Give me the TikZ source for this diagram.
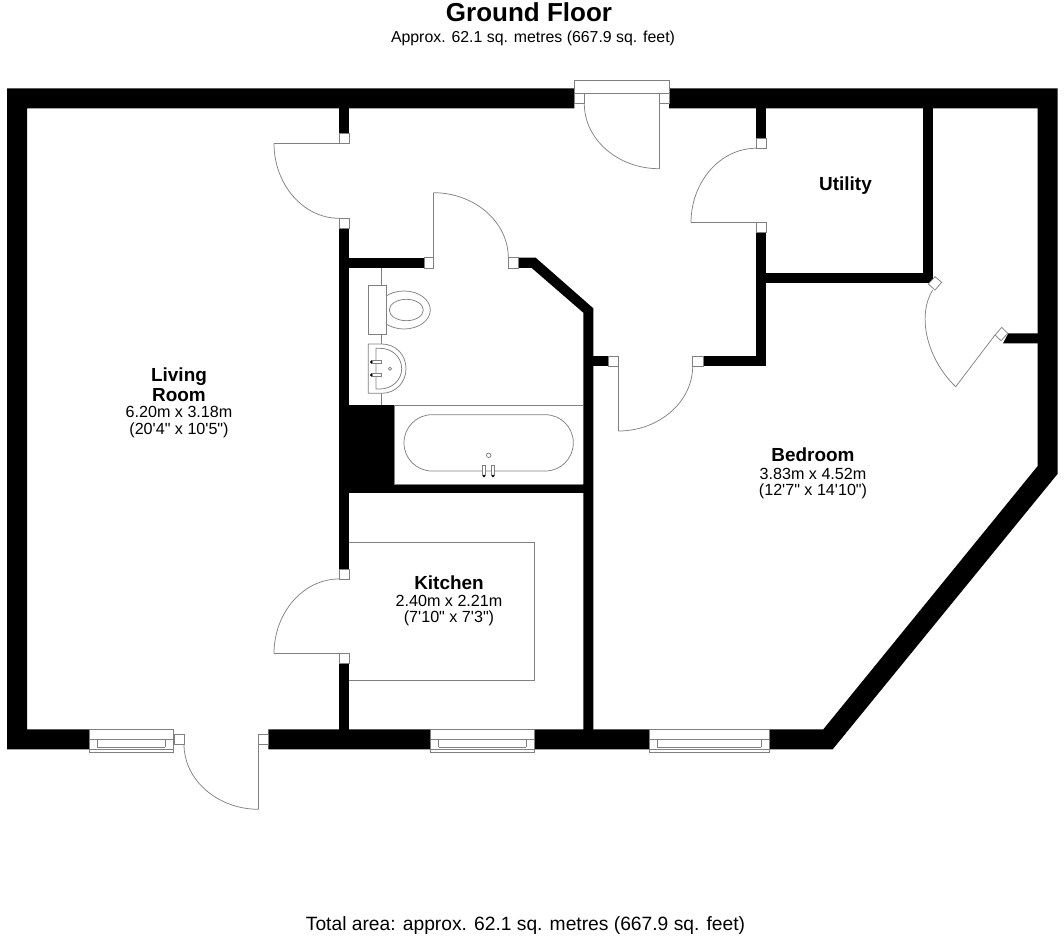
\documentclass[tikz,border=0pt]{standalone}
\usepackage{fontspec}
\setmainfont{Liberation Sans}
\usetikzlibrary{calc}

\tikzset{
  wall/.style={fill=black},
  fitting/.style={draw=black!50,line width=0.55pt},
  jamb/.style={draw=black!50,fill=white,line width=0.55pt},
  roomname/.style={font=\bfseries\fontsize{14.2}{14.8}\selectfont,align=center},
  roomsize/.style={font=\fontsize{12.1}{12.4}\selectfont,align=center}
}
\newcommand{\ft}{\textquotesingle}
\newcommand{\inch}{\textquotedbl}
\newcommand{\doorarc}[3]{\draw[fitting] (#1) .. controls ($(#1)+.55*(#2)-.55*(#3)$) and ($(#2)+.55*(#1)-.55*(#3)$) .. (#2);}
\newcommand{\windowbox}[2]{
  \fill[white] (#1,729.3) rectangle (#2,752.7);
  \draw[fitting] (#1,729.3) rectangle (#2,752.7);
  \draw[fitting] (#1,739.3) -- (#2,739.3);
  \draw[fitting] (#1,749.3) -- (#2,749.3);
  \draw[fitting] (#1+8,739.3) -- (#1+8,747.3);
  \draw[fitting] (#2-8,739.3) -- (#2-8,747.3);
  \draw[fitting] (#1+8,747.3) -- (#2-8,747.3);
}

\begin{document}
\begin{tikzpicture}[x=0.75pt,y=-0.75pt]
\useasboundingbox (0,0) rectangle (1064,937);

\fill[wall] (7,88.3) -- (574.3,88.3) -- (574.3,108.3) -- (27,108.3) -- (27,729.3) -- (89.3,729.3) -- (89.3,749.3) -- (7,749.3) -- cycle;
\fill[wall] (669,88.3) -- (1057.5,88.3) -- (1057.5,474) -- (832.7,749.3) -- (268.3,749.3) -- (268.3,729.3) -- (823.3,729.3) -- (1037.7,466) -- (1037.7,108.3) -- (669,108.3) -- cycle;

\fill[wall] (339,108) rectangle (349.3,133.3);
\fill[wall] (339,228.3) rectangle (349.3,569.3);
\fill[wall] (339,663.3) rectangle (349.3,730);
\fill[wall] (349,257.7) rectangle (424,268);
\fill[wall] (518.3,257.7) -- (535.7,257.7) -- (593.3,308.3) -- (593.3,730) -- (583.3,730) -- (583.3,312.7) -- (531.7,268) -- (518.3,268) -- cycle;
\fill[wall] (593,356) rectangle (608.3,366);
\fill[wall] (339,405) rectangle (394.3,484);
\fill[wall] (339,484) rectangle (593,493.5);
\fill[wall] (703,356) rectangle (766,366);
\fill[wall] (756,108) rectangle (766,138.3);
\fill[wall] (756,232.7) rectangle (766,366);
\fill[wall] (766,273.3) rectangle (933.3,283.3);
\fill[wall] (923.3,108) rectangle (933.3,283.3);
\fill[wall] (1038,333.3) -- (1008.3,333.3) -- (1003,343.3) -- (1038,343.3) -- cycle;

\draw[jamb] (339,133.3) rectangle (349.3,143.3);
\draw[jamb] (339,218.3) rectangle (349.3,228.3);
\draw[jamb] (339,569.3) rectangle (349.3,579);
\draw[jamb] (339,653.7) rectangle (349.3,663.3);
\draw[jamb] (424,257.7) rectangle (433.3,268);
\draw[jamb] (508.3,257.7) rectangle (518.3,268);
\draw[jamb] (608.3,356) rectangle (618.3,366);
\draw[jamb] (692.7,356) rectangle (703,366);
\draw[jamb] (756,138.3) rectangle (766,148.3);
\draw[jamb] (756,222.7) rectangle (766,232.7);
\draw[jamb] (574.3,93.3) rectangle (584.3,103.7);
\draw[jamb] (659,93.3) rectangle (669,103.7);
\draw[jamb] (174,734.3) rectangle (184,744.3);
\draw[jamb] (258.7,734.3) rectangle (268.3,744.3);
\draw[jamb] (935,276.7) -- (941.7,282.3) -- (935,290) -- (928.3,284) -- cycle;
\draw[jamb] (1001.7,327.3) -- (1007.7,333.3) -- (1001,340.7) -- (995,335) -- cycle;

\draw[fitting] (574.3,93.3) -- (574.3,80.3) -- (669,80.3) -- (669,93.3) -- cycle;
\draw[fitting] (659,93.3) -- (659,168.7);
\doorarc{584.3,103.7}{659,168.7}{659,103.7}
\draw[fitting] (349.3,143.3) -- (274,143.3);
\doorarc{274,143.3}{339,218.3}{339,143.3}
\draw[fitting] (339,653.7) -- (274,653.7);
\doorarc{339,579}{274,653.7}{339,653.7}
\draw[fitting] (433.3,257.7) -- (433.3,192.7);
\doorarc{433.3,192.7}{508.3,257.7}{433.3,257.7}
\draw[fitting] (618.3,366) -- (618.3,431);
\doorarc{692.7,366}{618.3,431}{618.3,366}
\draw[fitting] (756,222.7) -- (691,222.7);
\doorarc{756,148.3}{691,222.7}{756,222.7}
\draw[fitting] (995,335) -- (955.7,386.7);
\doorarc{932.7,290}{955.7,386.7}{985,340}
\draw[fitting] (258.7,744.3) -- (258.7,809.3);
\doorarc{184,744.3}{258.7,809.3}{258.7,744.3}

\windowbox{89.3}{173.3}
\windowbox{430.7}{534.3}
\windowbox{649}{769.3}

\draw[fitting] (349,542.7) -- (534,542.7) -- (534,680.3) -- (349,680.3);

\draw[fitting] (381.7,268) -- (381.7,405);
\draw[fitting,fill=white] (404,310) ellipse [x radius=26.3,y radius=19];
\draw[fitting] (406.3,310) ellipse [x radius=17,y radius=10.7];
\draw[fitting,fill=white] (368.3,285.3) rectangle (386.7,334.3);
\draw[fitting,fill=white] (381.7,344) -- (368.3,344) -- (368.3,393.3) -- (381.7,393.3) .. controls (396,393.3) and (406,382) .. (406,368.7) .. controls (406,355) and (396,344) .. (381.7,344) -- cycle;
\draw[fitting] (376,348.3) -- (376,389) -- (380,389) .. controls (392,389) and (401.7,380) .. (401.7,368.7) .. controls (401.7,357) and (392,348.3) .. (380,348.3) -- cycle;
\draw[fitting,fill=white] (371.3,360.3) rectangle (381.7,363.7);
\draw[fitting,fill=white] (371.3,373.3) rectangle (381.7,376.7);
\fill[black] (371.3,362) circle (1.1pt);
\fill[black] (371.3,375) circle (1.1pt);
\draw[fitting] (390,368.7) circle (1.2pt);

\draw[fitting] (394.3,405) -- (583.3,405);
\draw[fitting] (394.3,405) -- (394.3,484);
\draw[fitting] (394.3,484) -- (583.3,484);
\draw[fitting,rounded corners=21pt] (404,414.7) rectangle (573.3,471);
\draw[fitting,fill=white] (482.3,465.3) rectangle (485.7,475);
\draw[fitting,fill=white] (491.3,465.3) rectangle (494.7,475);
\fill[black] (484,476) circle (1.1pt);
\fill[black] (493,476) circle (1.1pt);
\draw[fitting] (488.7,455.3) circle (1.7pt);

\node (title) at (529,12) {\bfseries\fontsize{19.5}{20}\selectfont Ground Floor};
\node (subtitle) at (533,38) {\fontsize{11.9}{12.4}\selectfont Approx. 62.1 sq. metres (667.9 sq. feet)};
\node[roomname] (livingname) at (179,385) {Living\\Room};
\node[roomsize] (livingsize) at (179,422) {6.20m x 3.18m\\(20\ft4\inch{} x 10\ft5\inch)};
\node[roomname] (utilityname) at (845.5,185.5) {Utility};
\node[roomname] (bedroomname) at (813,455) {Bedroom};
\node[roomsize] (bedroomsize) at (813,483.5) {3.83m x 4.52m\\(12\ft7\inch{} x 14\ft10\inch)};
\node[roomname] (kitchenname) at (449,583) {Kitchen};
\node[roomsize] (kitchensize) at (449,610.5) {2.40m x 2.21m\\(7\ft10\inch{} x 7\ft3\inch)};
\node (total) at (525.5,926) {\fontsize{14.43}{15}\selectfont Total area: approx. 62.1 sq. metres (667.9 sq. feet)};
\end{tikzpicture}
\end{document}
